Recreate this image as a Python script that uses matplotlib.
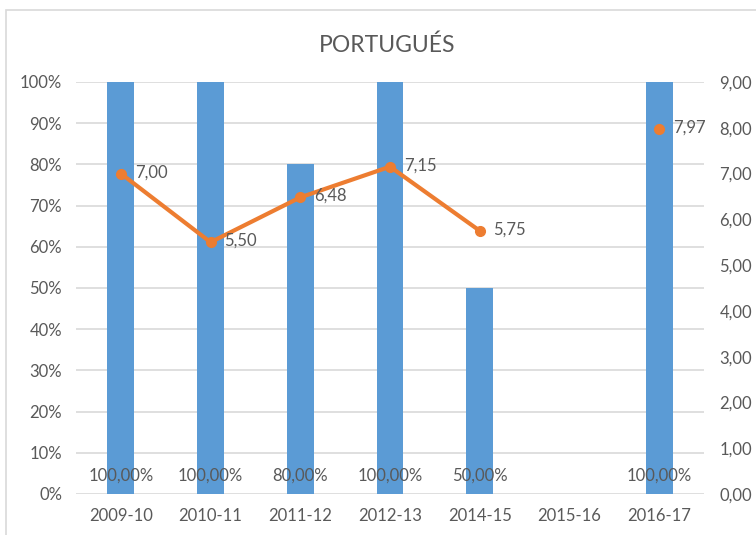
import numpy as np
import matplotlib.pyplot as plt
from matplotlib.patches import Rectangle
from matplotlib.ticker import FuncFormatter

plt.rcParams['font.family'] = ['Lato', 'DejaVu Sans']

# data
cursos = ["2009-10", "2010-11", "2011-12", "2012-13", "2014-15", "2015-16", "2016-17"]
aprobados = [100, 100, 80, 100, 50, np.nan, 100]      # % (left axis)
nota_media = [7.00, 5.50, 6.48, 7.15, 5.75, np.nan, 7.97]  # right axis

gris = '#595959'
azul = '#5b9bd5'
naranja = '#ed7d31'

fig = plt.figure(figsize=(7.56, 5.35), dpi=100)
ax = fig.add_axes([76/756, 41/535, 628/756, 412/535])
ax2 = ax.twinx()

# outer chart border (only left and top visible)
fig.patches.append(Rectangle((6/756, -0.1), 1.2, 1.1 - 10/535, transform=fig.transFigure,
                             fill=False, edgecolor='#d9d9d9', lw=1.2))

x = np.arange(len(cursos))
ax.bar(x, aprobados, width=0.3, color=azul, zorder=2)
for xi, v in zip(x, aprobados):
    if not np.isnan(v):
        ax.annotate(f"{v:.2f}%".replace('.', ','), (xi, 0), xytext=(0, 13),
                    textcoords='offset points', ha='center', va='center',
                    fontsize=12, color=gris, zorder=4)

ax2.plot(x, nota_media, color=naranja, lw=3, marker='o', ms=7, zorder=3)
for xi, v in zip(x, nota_media):
    if not np.isnan(v):
        ax2.annotate(f"{v:.2f}".replace('.', ','), (xi, v), xytext=(10, 1),
                     textcoords='offset points', ha='left', va='center',
                     fontsize=12, color=gris)

ax.set_xlim(-0.5, len(cursos) - 0.5)
ax.set_ylim(0, 100)
ax.set_yticks(np.arange(0, 101, 10))
ax.yaxis.set_major_formatter(FuncFormatter(lambda v, p: f"{v:.0f}%"))
ax2.set_ylim(0, 9)
ax2.set_yticks(np.arange(0, 9.1, 1))
ax2.yaxis.set_major_formatter(FuncFormatter(lambda v, p: f"{v:.2f}".replace('.', ',')))

ax.set_xticks(x)
ax.set_xticklabels(cursos)
ax.grid(axis='y', color='#d9d9d9', lw=1.2, zorder=0)
ax.set_axisbelow(True)

for a in (ax, ax2):
    for s in a.spines.values():
        s.set_visible(False)
    a.tick_params(length=0, labelsize=12, labelcolor=gris)
ax.tick_params(axis='y', pad=10)
ax2.tick_params(axis='y', pad=11)
ax.tick_params(axis='x', pad=10)

fig.text(0.512, 1 - 45/535, "PORTUGUÉS", ha='center', va='center', fontsize=16.5, color=gris)

fig.savefig('out.png', dpi=100)
